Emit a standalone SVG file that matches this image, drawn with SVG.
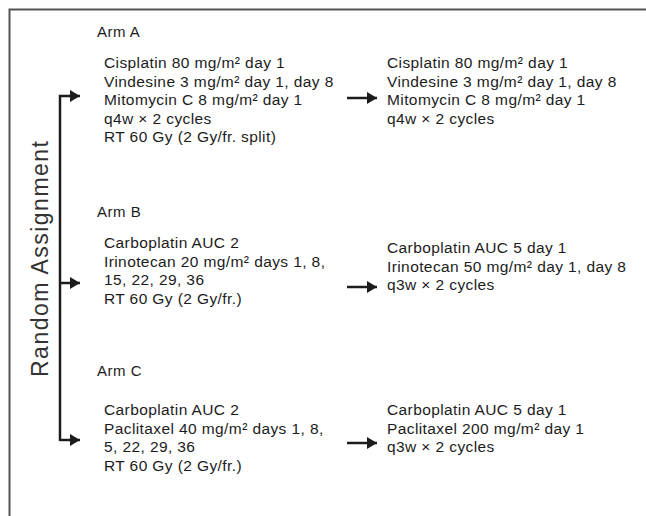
<svg xmlns="http://www.w3.org/2000/svg" width="646" height="516" viewBox="0 0 646 516">
  <defs>
    <style>
      .t { font-family: "Liberation Sans", Arial, sans-serif; font-size: 15.5px; letter-spacing: 0.4px; fill: #1c1c1c; }
      .arm { font-family: "Liberation Sans", Arial, sans-serif; font-size: 15px; letter-spacing: 0.5px; fill: #1c1c1c; }
      .ra { font-family: "Liberation Sans", Arial, sans-serif; font-size: 23px; fill: #333; }
      .ln { stroke: #1c1c1c; stroke-width: 2.5; fill: none; }
      .frame { stroke: #555; stroke-width: 2; fill: none; }
    </style>
    <marker id="ah" viewBox="0 0 10 12" refX="10" refY="6" markerWidth="10" markerHeight="12" markerUnits="userSpaceOnUse" orient="auto">
      <path d="M0,0 L10,6 L0,12 z" fill="#1c1c1c"/>
    </marker>
  </defs>
  <rect width="646" height="516" fill="#fff"/>
  <path class="frame" d="M9.5,516 L9.5,9.5 L646,9.5"/>

  <text class="ra" transform="translate(48,259) rotate(-90)" text-anchor="middle" textLength="236" lengthAdjust="spacing">Random Assignment</text>

  <g id="connectors">
    <path class="ln" d="M60,441 L60,96 L80,96" marker-end="url(#ah)"/>
    <path class="ln" d="M60,283 L80,283" marker-end="url(#ah)"/>
    <path class="ln" d="M60,440 L80,440" marker-end="url(#ah)"/>
    <path class="ln" d="M347,98 L377,98" marker-end="url(#ah)"/>
    <path class="ln" d="M347,287 L377,287" marker-end="url(#ah)"/>
    <path class="ln" d="M347,443 L377,443" marker-end="url(#ah)"/>
  </g>

  <g id="armA-label"><text class="arm" x="97" y="37">Arm A</text></g>
  <g id="armA-phase1">
    <text class="t" x="104" y="68">Cisplatin 80 mg/m² day 1</text>
    <text class="t" x="104" y="86.5">Vindesine 3 mg/m² day 1, day 8</text>
    <text class="t" x="104" y="105">Mitomycin C 8 mg/m² day 1</text>
    <text class="t" x="104" y="123.5">q4w × 2 cycles</text>
    <text class="t" x="104" y="142">RT 60 Gy (2 Gy/fr. split)</text>
  </g>
  <g id="armA-phase2">
    <text class="t" x="387" y="68">Cisplatin 80 mg/m² day 1</text>
    <text class="t" x="387" y="86.5">Vindesine 3 mg/m² day 1, day 8</text>
    <text class="t" x="387" y="105">Mitomycin C 8 mg/m² day 1</text>
    <text class="t" x="387" y="123.5">q4w × 2 cycles</text>
  </g>

  <g id="armB-label"><text class="arm" x="97" y="217">Arm B</text></g>
  <g id="armB-phase1">
    <text class="t" x="104" y="248">Carboplatin AUC 2</text>
    <text class="t" x="104" y="266.5">Irinotecan 20 mg/m² days 1, 8,</text>
    <text class="t" x="104" y="285">15, 22, 29, 36</text>
    <text class="t" x="104" y="303.5">RT 60 Gy (2 Gy/fr.)</text>
  </g>
  <g id="armB-phase2">
    <text class="t" x="387" y="253">Carboplatin AUC 5 day 1</text>
    <text class="t" x="387" y="271.5">Irinotecan 50 mg/m² day 1, day 8</text>
    <text class="t" x="387" y="290">q3w × 2 cycles</text>
  </g>

  <g id="armC-label"><text class="arm" x="97" y="376">Arm C</text></g>
  <g id="armC-phase1">
    <text class="t" x="104" y="415">Carboplatin AUC 2</text>
    <text class="t" x="104" y="433.5">Paclitaxel 40 mg/m² days 1, 8,</text>
    <text class="t" x="104" y="452">5, 22, 29, 36</text>
    <text class="t" x="104" y="470.5">RT 60 Gy (2 Gy/fr.)</text>
  </g>
  <g id="armC-phase2">
    <text class="t" x="387" y="415">Carboplatin AUC 5 day 1</text>
    <text class="t" x="387" y="433.5">Paclitaxel 200 mg/m² day 1</text>
    <text class="t" x="387" y="452">q3w × 2 cycles</text>
  </g>
</svg>
